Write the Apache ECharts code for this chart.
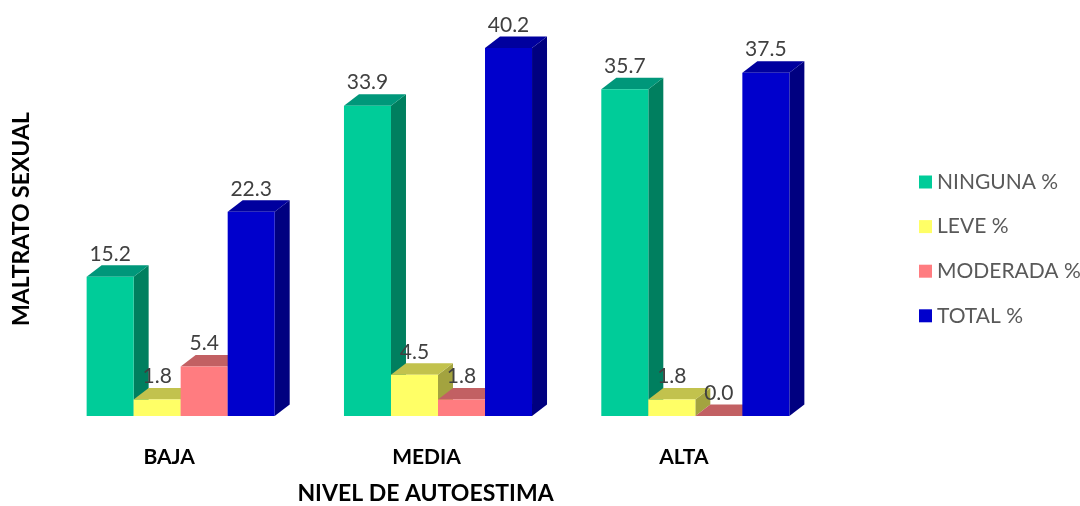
<!DOCTYPE html>
<html>
<head>
<meta charset="utf-8">
<script src="https://cdn.jsdelivr.net/npm/echarts@6/dist/echarts.min.js"></script>
<style>html,body{margin:0;padding:0;background:#fff}#c{width:1080px;height:506px}</style>
</head>
<body>
<div id="c"></div>
<script>
const categories = ['BAJA', 'MEDIA', 'ALTA'];
const ninguna = [15.2, 33.9, 35.7];
const leve = [1.8, 4.5, 1.8];
const moderada = [5.4, 1.8, 0.0];
const total = [22.3, 40.2, 37.5];
const seriesNames = ['NINGUNA %', 'LEVE %', 'MODERADA %', 'TOTAL %'];
const xTitle = 'NIVEL DE AUTOESTIMA';
const yTitle = 'MALTRATO SEXUAL';

const palette = [
  { front: '#00CC99', top: '#00977A', side: '#007F5F' },
  { front: '#FFFF66', top: '#C2C24D', side: '#A3A33F' },
  { front: '#FF7C80', top: '#C26063', side: '#A04F52' },
  { front: '#0000CC', top: '#00009E', side: '#000080' }
];
const allData = [ninguna, leve, moderada, total];

function makeRender(si) {
  const col = palette[si];
  return function (params, api) {
    const c = api.value(0), v = api.value(1);
    const p0 = api.coord([c, 0]), p1 = api.coord([c, v]);
    const cw = api.size([1, 0])[0];
    const bw = cw * 0.1827;
    const x0 = p0[0] - 2 * bw + si * bw, x1 = x0 + bw;
    const yb = p0[1], yt = p1[1];
    const dx = 15, dy = 11.5;
    return {
      type: 'group',
      children: [
        { type: 'polygon', shape: { points: [[x1, yt], [x1 + dx, yt - dy], [x1 + dx, yb - dy], [x1, yb]] }, style: { fill: col.side } },
        { type: 'polygon', shape: { points: [[x0, yt], [x0 + dx, yt - dy], [x1 + dx, yt - dy], [x1, yt]] }, style: { fill: col.top } },
        { type: 'rect', shape: { x: x0, y: yt, width: bw, height: yb - yt }, style: { fill: col.front } },
        { type: 'text', style: { text: v.toFixed(1), x: (x0 + x1) / 2, y: yt - dy - 1, align: 'center', verticalAlign: 'bottom', fill: '#404040', font: '21px Lato' } }
      ]
    };
  };
}

const series = seriesNames.map((name, si) => ({
  name: name,
  type: 'custom',
  renderItem: makeRender(si),
  itemStyle: { color: palette[si].front },
  encode: { x: 0, y: 1 },
  data: allData[si].map((v, i) => [i, v]),
  z: 2 + si
}));

const chart = echarts.init(document.getElementById('c'), null, { renderer: 'canvas' });
chart.setOption({
  animation: false,
  backgroundColor: '#ffffff',
  grid: { left: 52, right: 256, top: 4, bottom: 90 },
  xAxis: {
    type: 'category',
    data: categories,
    axisLine: { show: false },
    axisTick: { show: false },
    axisLabel: { margin: 31, fontFamily: 'Lato', fontWeight: 'bold', fontSize: 21, color: '#000', padding: [0, 23, 0, 0] }
  },
  yAxis: { type: 'value', min: 0, max: 45, show: false },
  legend: {
    orient: 'vertical',
    left: 914,
    top: 165,
    icon: 'rect',
    itemWidth: 13,
    itemHeight: 13,
    itemGap: 20.6,
    textStyle: { fontFamily: 'Lato', fontSize: 21, color: '#595959', lineHeight: 24 },
    data: seriesNames
  },
  graphic: [
    { type: 'text', x: 425.5, y: 494, style: { text: xTitle, align: 'center', verticalAlign: 'middle', font: 'bold 23px Lato', fill: '#000' } },
    { type: 'text', x: 22, y: 219, rotation: Math.PI / 2, style: { text: yTitle, align: 'center', verticalAlign: 'middle', font: 'bold 23px Lato', fill: '#000' } }
  ],
  series: series
});
</script>
</body>
</html>
